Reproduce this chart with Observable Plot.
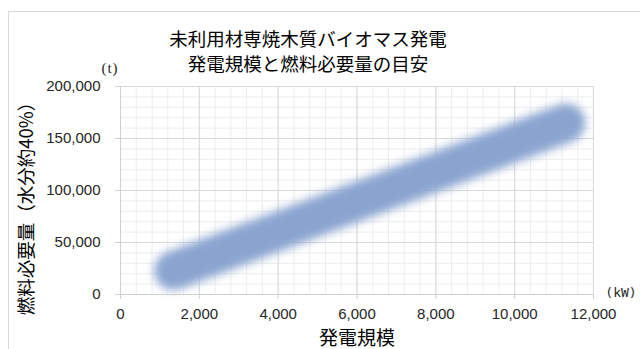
<!DOCTYPE html>
<html><head><meta charset="utf-8">
<script src="https://cdn.jsdelivr.net/npm/d3@7"></script>
<script src="https://cdn.jsdelivr.net/npm/@observablehq/plot@0.6"></script>
<style>
body{margin:0;background:#fff;}
#wrap{position:relative;width:640px;height:349px;overflow:hidden;font-family:"Noto Sans CJK JP","Noto Sans",sans-serif;}
.frame{position:absolute;left:8px;top:11px;width:700px;height:400px;border-top:1px solid #d9d9d9;border-left:1px solid #d9d9d9;}
.t{position:absolute;white-space:nowrap;color:#000;line-height:1;transform:translate(-50%,-50%);}
#wrap svg{position:absolute;left:0;top:0;}
</style></head><body>
<div id="wrap"><div class="frame"></div></div>
<script>
const titleLines = ["未利用材専焼木質バイオマス発電", "発電規模と燃料必要量の目安"];
const xLabel = "発電規模";
const yLabel = "燃料必要量（水分約40%）";
const xUnit = "(kW)";
const yUnit = "(t)";
const capacityKW = [1350, 11300];
const fuelTonnes = [23000, 165000];
const xTicks = [0, 2000, 4000, 6000, 8000, 10000, 12000];
const yTicks = [0, 50000, 100000, 150000, 200000];
const xMinor = d3.range(0, 12001, 400);
const yMinor = d3.range(0, 200001, 10000);

const band = capacityKW.map((kw, i) => ({kw, t: fuelTonnes[i]}));
const fmt = d3.format(",");

const chart = Plot.plot({
  width: 640, height: 349,
  marginLeft: 120, marginRight: 47, marginTop: 86, marginBottom: 55,
  x: {domain: [0, 12000]},
  y: {domain: [0, 200000]},
  style: {background: "transparent", fontFamily: "'Liberation Sans', Arial, sans-serif", fontSize: "15px", color: "#262626", overflow: "visible"},
  marks: [
    Plot.gridX(xMinor, {stroke: "#ededed", strokeOpacity: 1}),
    Plot.gridY(yMinor, {stroke: "#ededed", strokeOpacity: 1}),
    Plot.gridX(xTicks, {stroke: "#d9d9d9", strokeOpacity: 1}),
    Plot.gridY(yTicks, {stroke: "#d9d9d9", strokeOpacity: 1}),
    Plot.line(band, {x: "kw", y: "t", stroke: "#8aa4d0", strokeWidth: 39, strokeLinecap: "round"}),
    Plot.ruleY([0], {stroke: "#d0d0d0"}),
    Plot.ruleX([0], {stroke: "#d0d0d0"}),
    Plot.axisX(xTicks, {tickFormat: fmt, tickSize: 5, tickPadding: 9, stroke: "#d0d0d0", fill: "#262626", label: null}),
    Plot.axisY(yTicks, {tickFormat: fmt, tickSize: 5, tickPadding: 15, stroke: "#d0d0d0", fill: "#262626", label: null})
  ]
});

const svg = d3.select(chart);
const defs = svg.insert("defs", ":first-child");
defs.append("filter").attr("id", "bandblur").attr("filterUnits", "userSpaceOnUse")
  .attr("x", 0).attr("y", 0).attr("width", 640).attr("height", 349)
  .append("feGaussianBlur").attr("stdDeviation", 5);
svg.select('g[aria-label="line"]').attr("filter", "url(#bandblur)");

const wrap = document.getElementById("wrap");
wrap.appendChild(chart);

function addText(txt, x, y, style) {
  const d = document.createElement("div");
  d.className = "t";
  d.textContent = txt;
  d.style.left = x + "px";
  d.style.top = y + "px";
  Object.assign(d.style, style || {});
  wrap.appendChild(d);
  return d;
}
addText(titleLines[0], 308, 38, {fontSize: "18.5px"});
addText(titleLines[1], 308, 63, {fontSize: "18.5px"});
addText(yUnit, 110, 68, {fontFamily: "'Liberation Serif', serif", fontSize: "15px", letterSpacing: "1px", color: "#262626"});
addText(xUnit, 621, 292, {fontFamily: "'DejaVu Sans Mono', monospace", fontSize: "13px", color: "#262626"});
addText(xLabel, 357, 336, {fontSize: "19px"});
addText(yLabel, 25, 204, {fontSize: "18.5px", transform: "translate(-50%,-50%) rotate(-90deg)"});
</script>
</body></html>
